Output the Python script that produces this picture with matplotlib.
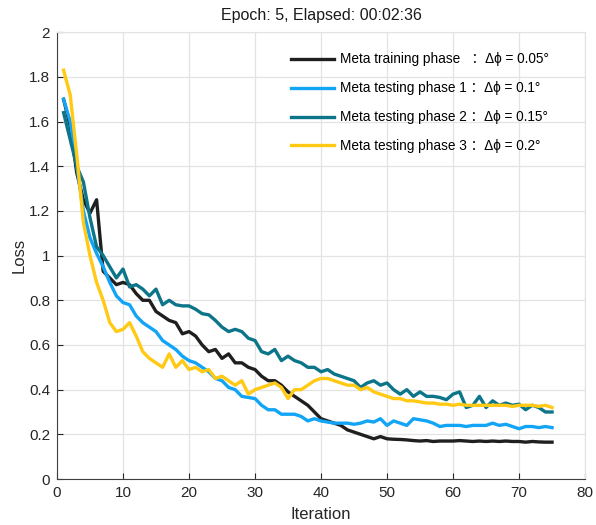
import matplotlib
matplotlib.use("Agg")
import matplotlib.pyplot as plt
import numpy as np

plt.rcParams["font.family"] = ["Liberation Sans", "DejaVu Sans", "Noto Sans CJK SC"]

iteration = np.arange(1, 76)

train = [1.70, 1.58, 1.37, 1.25, 1.19, 1.25, 0.93, 0.90, 0.87, 0.88,
         0.87, 0.83, 0.80, 0.80, 0.75, 0.73, 0.71, 0.70, 0.65, 0.66,
         0.64, 0.60, 0.57, 0.58, 0.54, 0.56, 0.52, 0.52, 0.50, 0.49,
         0.46, 0.44, 0.44, 0.42, 0.39, 0.37, 0.35, 0.33, 0.30, 0.27,
         0.26, 0.25, 0.24, 0.22, 0.21, 0.20, 0.19, 0.18, 0.19, 0.18,
         0.178, 0.177, 0.175, 0.172, 0.17, 0.172, 0.168, 0.17, 0.17, 0.17,
         0.172, 0.17, 0.168, 0.17, 0.168, 0.17, 0.168, 0.17, 0.168, 0.168,
         0.165, 0.168, 0.166, 0.165, 0.165]

test1 = [1.70, 1.60, 1.40, 1.20, 1.08, 1.01, 0.95, 0.88, 0.82, 0.79,
         0.78, 0.73, 0.70, 0.68, 0.66, 0.62, 0.60, 0.58, 0.55, 0.53,
         0.52, 0.50, 0.48, 0.45, 0.44, 0.41, 0.40, 0.37, 0.365, 0.36,
         0.33, 0.31, 0.31, 0.29, 0.29, 0.29, 0.28, 0.26, 0.27, 0.26,
         0.255, 0.25, 0.25, 0.25, 0.245, 0.25, 0.26, 0.255, 0.27, 0.24,
         0.26, 0.25, 0.24, 0.27, 0.265, 0.26, 0.25, 0.235, 0.24, 0.24,
         0.24, 0.235, 0.24, 0.24, 0.24, 0.25, 0.24, 0.245, 0.235, 0.225,
         0.235, 0.235, 0.23, 0.235, 0.23]

test2 = [1.64, 1.52, 1.40, 1.33, 1.17, 1.04, 1.00, 0.95, 0.90, 0.94,
         0.86, 0.87, 0.85, 0.82, 0.85, 0.78, 0.80, 0.78, 0.775, 0.775,
         0.76, 0.74, 0.735, 0.71, 0.68, 0.66, 0.67, 0.66, 0.63, 0.62,
         0.57, 0.56, 0.58, 0.53, 0.55, 0.53, 0.52, 0.50, 0.50, 0.48,
         0.49, 0.47, 0.46, 0.45, 0.44, 0.41, 0.43, 0.44, 0.42, 0.43,
         0.40, 0.38, 0.40, 0.37, 0.39, 0.37, 0.37, 0.365, 0.355, 0.38,
         0.39, 0.32, 0.33, 0.37, 0.32, 0.35, 0.33, 0.34, 0.33, 0.335,
         0.31, 0.33, 0.32, 0.30, 0.30]

test3 = [1.83, 1.72, 1.45, 1.15, 1.00, 0.88, 0.80, 0.70, 0.66, 0.67,
         0.70, 0.64, 0.57, 0.54, 0.52, 0.50, 0.56, 0.50, 0.53, 0.49,
         0.50, 0.48, 0.49, 0.45, 0.46, 0.44, 0.42, 0.44, 0.38, 0.40,
         0.41, 0.42, 0.43, 0.41, 0.36, 0.40, 0.40, 0.42, 0.44, 0.45,
         0.45, 0.44, 0.43, 0.42, 0.42, 0.40, 0.41, 0.39, 0.38, 0.37,
         0.36, 0.36, 0.35, 0.35, 0.345, 0.34, 0.34, 0.335, 0.335, 0.33,
         0.335, 0.33, 0.33, 0.33, 0.33, 0.33, 0.33, 0.33, 0.325, 0.33,
         0.33, 0.33, 0.325, 0.33, 0.32]

labels = [
    "Meta training phase   \uff1a\u0394\u03d5 = 0.05\u00b0",
    "Meta testing phase 1 \uff1a\u0394\u03d5 = 0.1\u00b0",
    "Meta testing phase 2 \uff1a\u0394\u03d5 = 0.15\u00b0",
    "Meta testing phase 3 \uff1a\u0394\u03d5 = 0.2\u00b0",
]
colors = ["#1f1f1f", "#12a4f5", "#0d7589", "#ffc914"]

fig = plt.figure(figsize=(5.96, 5.25), dpi=100)
ax = fig.add_axes([0.0956, 0.0876, 0.886, 0.851])

for ys, lab, c in zip([train, test1, test2, test3], labels, colors):
    ax.plot(iteration, ys, color=c, lw=2.4, label=lab)

ax.set_xlim(0, 80)
ax.set_ylim(0, 2)
ax.set_xticks(np.arange(0, 81, 10))
ax.set_yticks(np.arange(0, 2.01, 0.2))
ax.set_yticklabels(["0", "0.2", "0.4", "0.6", "0.8", "1", "1.2", "1.4", "1.6", "1.8", "2"])
ax.grid(True, color="#e3e3e3", lw=0.9)
ax.set_axisbelow(True)
ax.tick_params(direction="in", length=4, labelsize=11, colors="#262626", pad=5)
for s in ("left", "bottom"):
    ax.spines[s].set_color("#404040")
for s in ("top", "right"):
    ax.spines[s].set_color("#e3e3e3")

ax.set_xlabel("Iteration", fontsize=12, color="#262626", labelpad=5)
ax.set_ylabel("Loss", fontsize=12, color="#262626", labelpad=2)
ax.set_title("Epoch: 5, Elapsed: 00:02:36", fontsize=11.5, color="#1a1a1a", pad=9)

ax.legend(loc="upper left", bbox_to_anchor=(0.443, 0.955), frameon=False,
          fontsize=9.8, handlelength=3.2, handletextpad=0.38,
          labelspacing=1.1, borderpad=0, borderaxespad=0)

fig.savefig("out.png", dpi=100)
